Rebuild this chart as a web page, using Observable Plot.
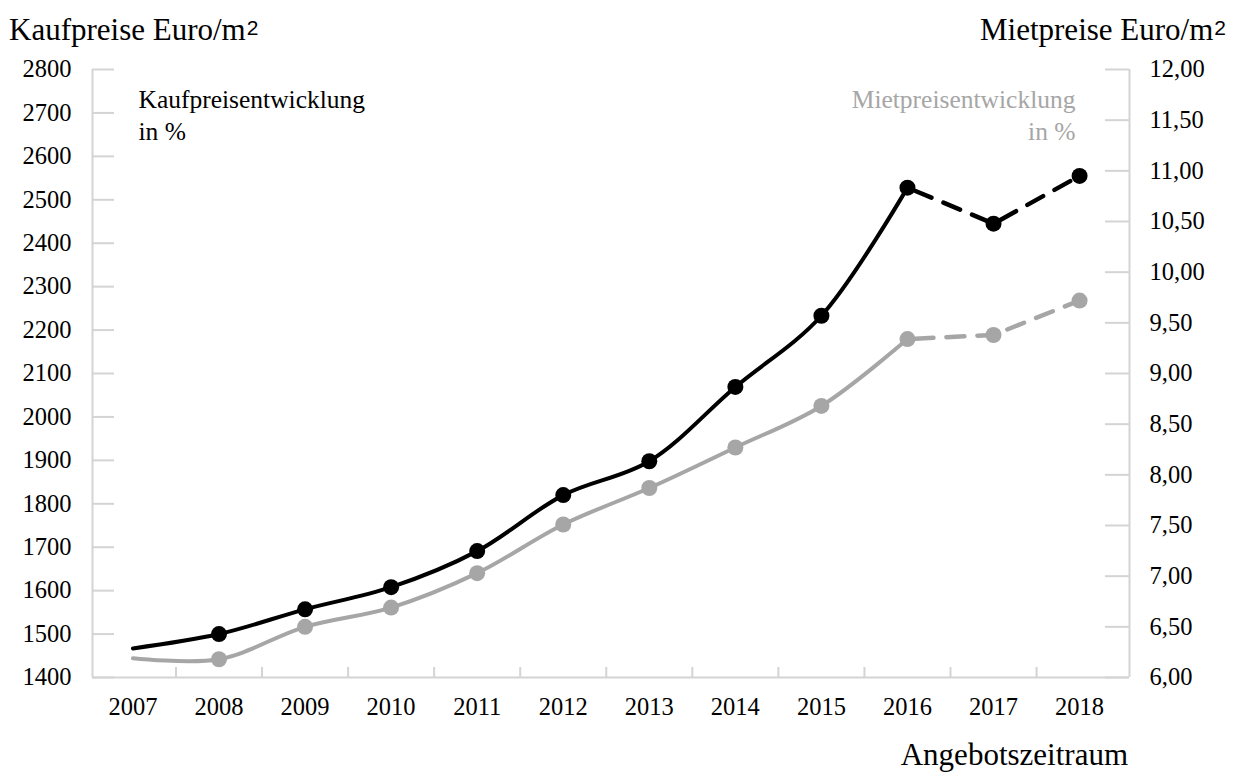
<!DOCTYPE html>
<html>
<head>
<meta charset="utf-8">
<script src="https://cdn.jsdelivr.net/npm/d3@7"></script>
<script src="https://cdn.jsdelivr.net/npm/@observablehq/plot@0.6"></script>
<style>
  html, body { margin: 0; padding: 0; background: #fff; }
  #chart { position: relative; width: 1239px; height: 776px; font-family: "Liberation Serif", "Times New Roman", serif; color: #000; }
  #chart svg { position: absolute; left: 0; top: 0; }
  .title { position: absolute; font-size: 31px; line-height: 31px; white-space: nowrap; }
  .sq { font-family: "Liberation Sans", Arial, sans-serif; font-size: 21px; vertical-align: 5px; margin-left: 1px; }
</style>
</head>
<body>
<div id="chart">
  <div class="title" style="left:9px; top:12px;">Kaufpreise Euro/m<span class="sq">2</span></div>
  <div class="title" style="right:13px; top:12px;">Mietpreise Euro/m<span class="sq">2</span></div>
  <div class="title" style="right:111px; top:739px;">Angebotszeitraum</div>
</div>
<script>
// Angebotszeitraum (years)
const years = [2007, 2008, 2009, 2010, 2011, 2012, 2013, 2014, 2015, 2016, 2017, 2018];
// Kaufpreise, Euro/m² (left axis)
const kaufpreise = [1467, 1500, 1557, 1608, 1691, 1820, 1898, 2069, 2233, 2528, 2445, 2555];
// Mietpreise, Euro/m² (right axis)
const mietpreise = [6.19, 6.18, 6.50, 6.69, 7.03, 7.51, 7.87, 8.27, 8.68, 9.34, 9.38, 9.72];
// Axis tick values
const kaufTicks = [1400, 1500, 1600, 1700, 1800, 1900, 2000, 2100, 2200, 2300, 2400, 2500, 2600, 2700, 2800];
const mietTicks = [6, 6.5, 7, 7.5, 8, 8.5, 9, 9.5, 10, 10.5, 11, 11.5, 12];
// Year at which the series switch from solid to dashed
const forecastFrom = 2016;

const W = 1239, H = 776;
const mL = 92, mR = 110, mT = 69, mB = 99;
const innerW = W - mL - mR;
const innerH = H - mT - mB;

const xDomain = [2006.53, 2018.58];
const kaufDomain = [kaufTicks[0], kaufTicks[kaufTicks.length - 1]];
const mietDomain = [mietTicks[0], mietTicks[mietTicks.length - 1]];

// Rent values share the y scale: map them onto the purchase-price range
const toKauf = d3.scaleLinear(mietDomain, kaufDomain);

const kaufRows = years.map((year, i) => ({year, value: kaufpreise[i]}));
const mietRows = years.map((year, i) => ({year, value: toKauf(mietpreise[i])}));
const yearBoundaries = years.slice(0, -1).map(y => y + 0.5);

const solid = r => r.year <= forecastFrom;
const dashed = r => r.year >= forecastFrom;
const withDot = r => r.year > years[0];

const black = "#000000";
const gray = "#a6a6a6";
const axisGray = "#d4d4d4";

const commaFmt = d => d3.format(".2f")(toKauf.invert(d)).replace(".", ",");

const chart = Plot.plot({
  width: W,
  height: H,
  marginLeft: mL,
  marginRight: mR,
  marginTop: mT,
  marginBottom: mB,
  style: {fontFamily: "'Liberation Serif', 'Times New Roman', serif", fontSize: "24.5px", color: "#000", background: "transparent"},
  x: {type: "linear", domain: xDomain},
  y: {domain: kaufDomain},
  marks: [
    // axis lines
    Plot.ruleX(xDomain, {stroke: axisGray, strokeWidth: 2}),
    Plot.ruleY([kaufDomain[0]], {stroke: axisGray, strokeWidth: 2}),
    // inward tick marks
    Plot.ruleY(kaufTicks, {stroke: axisGray, strokeWidth: 2, insetRight: innerW - 22}),
    Plot.ruleY(mietTicks.map(toKauf), {stroke: axisGray, strokeWidth: 2, insetLeft: innerW - 24}),
    Plot.ruleX(yearBoundaries, {stroke: axisGray, strokeWidth: 2, insetTop: innerH - 10}),
    // tick labels
    Plot.axisX({ticks: years, tickFormat: d => String(d), tickSize: 0, tickPadding: 20, label: null}),
    Plot.axisY({anchor: "left", ticks: kaufTicks, tickFormat: d => String(d), tickSize: 0, tickPadding: 21, label: null}),
    Plot.axisY({anchor: "right", ticks: mietTicks.map(toKauf), tickFormat: commaFmt, tickSize: 0, tickPadding: 20, label: null}),
    // series labels
    Plot.text(["Kaufpreisentwicklung\nin %"], {text: d => d, frameAnchor: "top-left", dx: 46, dy: 16, textAnchor: "start", lineAnchor: "top", lineHeight: 1.25, fontSize: 25.5, fill: black}),
    Plot.text(["Mietpreisentwicklung\nin %"], {text: d => d, frameAnchor: "top-right", dx: -54, dy: 16, textAnchor: "end", lineAnchor: "top", lineHeight: 1.25, fontSize: 25.5, fill: gray}),
    // Mietpreise
    Plot.line(mietRows.filter(solid), {x: "year", y: "value", stroke: gray, strokeWidth: 4, curve: "catmull-rom"}),
    Plot.line(mietRows.filter(dashed), {x: "year", y: "value", stroke: gray, strokeWidth: 4.5, strokeDasharray: "18,13", strokeDashoffset: -8}),
    Plot.dot(mietRows.filter(withDot), {x: "year", y: "value", r: 8, fill: gray}),
    // Kaufpreise
    Plot.line(kaufRows.filter(solid), {x: "year", y: "value", stroke: black, strokeWidth: 4, curve: "catmull-rom"}),
    Plot.line(kaufRows.filter(dashed), {x: "year", y: "value", stroke: black, strokeWidth: 4.5, strokeDasharray: "18,13", strokeDashoffset: -8}),
    Plot.dot(kaufRows.filter(withDot), {x: "year", y: "value", r: 8, fill: black})
  ]
});

document.getElementById("chart").prepend(chart);
</script>
</body>
</html>
